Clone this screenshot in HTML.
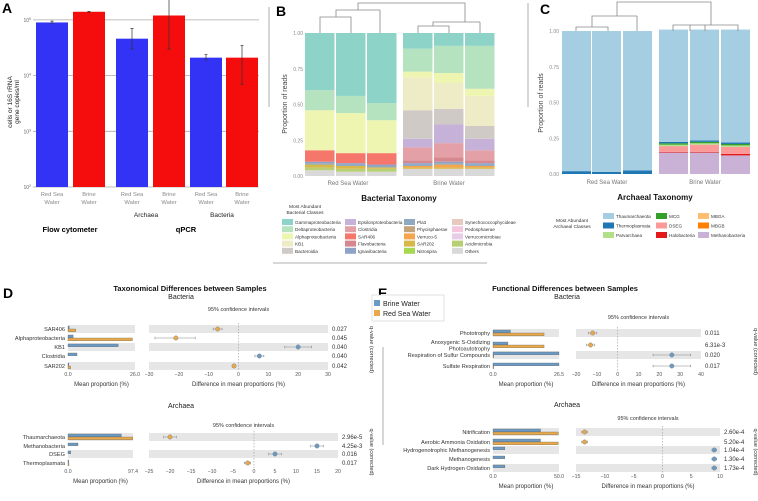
<!DOCTYPE html>
<html><head><meta charset="utf-8">
<style>
html,body{margin:0;padding:0;background:#fff;}
svg{display:block;font-family:"Liberation Sans",Arial,sans-serif;}
.t{fill:#555;}
</style></head>
<body>
<svg id="fig" width="758" height="501" viewBox="0 0 758 501" xmlns="http://www.w3.org/2000/svg">
<!-- static text -->
<text x="2" y="13" font-size="14" font-weight="bold" fill="#000">A</text>
<text x="276" y="16" font-size="14" font-weight="bold" fill="#000">B</text>
<text x="540" y="14" font-size="14" font-weight="bold" fill="#000">C</text>
<text x="3" y="298" font-size="14" font-weight="bold" fill="#000">D</text>
<text x="378" y="298" font-size="14" font-weight="bold" fill="#000">E</text>

<text transform="translate(12,102) rotate(-90)" text-anchor="middle" font-size="6.5" fill="#222">cells or 16S rRNA</text>
<text transform="translate(19,102) rotate(-90)" text-anchor="middle" font-size="6.5" fill="#222">gene copies/ml</text>
<text x="146" y="217" text-anchor="middle" font-size="6.5" fill="#222">Archaea</text>
<text x="222" y="217" text-anchor="middle" font-size="6.5" fill="#222">Bacteria</text>
<text x="70" y="232" text-anchor="middle" font-size="7.5" font-weight="bold" fill="#000">Flow cytometer</text>
<text x="186" y="232" text-anchor="middle" font-size="7.5" font-weight="bold" fill="#000">qPCR</text>
<line x1="269" y1="7" x2="269" y2="107" stroke="#999" stroke-width="0.8"/>
<line x1="528" y1="3" x2="528" y2="107" stroke="#999" stroke-width="0.8"/>
<line x1="273" y1="263" x2="487" y2="263" stroke="#999" stroke-width="0.8"/>
<line x1="383" y1="347" x2="383" y2="445" stroke="#999" stroke-width="0.8"/>

<text transform="translate(287,104) rotate(-90)" text-anchor="middle" font-size="7" fill="#444">Proportion of reads</text>
<text x="348" y="185" text-anchor="middle" font-size="6" fill="#777">Red Sea Water</text>
<text x="449" y="185" text-anchor="middle" font-size="6" fill="#777">Brine Water</text>
<text x="399" y="201" text-anchor="middle" font-size="8" font-weight="bold" fill="#111">Bacterial Taxonomy</text>
<text x="305" y="208" text-anchor="middle" font-size="4.8" fill="#333">Most Abundant</text>
<text x="305" y="214" text-anchor="middle" font-size="4.8" fill="#333">Bacterial Classes</text>

<text transform="translate(543,103) rotate(-90)" text-anchor="middle" font-size="7" fill="#444">Proportion of reads</text>
<text x="607" y="184" text-anchor="middle" font-size="6" fill="#777">Red Sea Water</text>
<text x="705" y="184" text-anchor="middle" font-size="6" fill="#777">Brine Water</text>
<text x="655" y="200" text-anchor="middle" font-size="8" font-weight="bold" fill="#111">Archaeal Taxonomy</text>
<text x="572" y="222" text-anchor="middle" font-size="4.8" fill="#333">Most Abundant</text>
<text x="572" y="228" text-anchor="middle" font-size="4.8" fill="#333">Archaeal Classes</text>

<text x="190" y="291" text-anchor="middle" font-size="7.5" font-weight="bold" fill="#111">Taxonomical Differences between Samples</text>
<text x="565" y="291" text-anchor="middle" font-size="7.5" font-weight="bold" fill="#111">Functional Differences between Samples</text>

<rect x="372" y="295" width="72" height="26" fill="#fff" stroke="#ccc" stroke-width="0.6"/>
<rect x="374" y="300" width="6" height="6" fill="#6b9ac4"/>
<text x="383" y="306" font-size="7" fill="#222">Brine Water</text>
<rect x="374" y="310" width="6" height="6" fill="#e8a84c"/>
<text x="383" y="316" font-size="7" fill="#222">Red Sea Water</text>

<g id="dyn"></g>
</svg>
<script>
// ---------- Panel A data ----------
const aCategories = ['Red Sea Water','Brine Water','Red Sea Water','Brine Water','Red Sea Water','Brine Water'];
const aValues = [90000, 140000, 46000, 120000, 21000, 21000];
const aErrLow = [85000, 138000, 30000, 30000, 19000, 7000];
const aErrHigh = [95000, 142000, 70000, 420000, 24000, 35000];
const aTicks = [2, 3, 4, 5];

// ---------- Panel B data (stack order bottom->top) ----------
const bClasses = ['Others','Acidimicrobia','SAR202','Verruco-5','Pla3','Ignavibacteria','Flavobacteria','SAR406','Clostridia','Epsilonproteobacteria','Bacteroidia','KB1','Alphaproteobacteria','Deltaproteobacteria','Gammaproteobacteria'];
const bOthers   = [0.04,0.03,0.03,0.05,0.05,0.05];
const bAcidi    = [0.02,0.02,0.02,0.00,0.00,0.00];
const bSAR202   = [0.02,0.02,0.01,0.01,0.01,0.01];
const bVerruco  = [0.00,0.00,0.00,0.01,0.02,0.01];
const bPla3     = [0.01,0.01,0.01,0.01,0.01,0.01];
const bIgnavi   = [0.01,0.01,0.01,0.01,0.01,0.01];
const bFlavo    = [0.00,0.00,0.00,0.02,0.03,0.02];
const bSAR406   = [0.08,0.07,0.08,0.00,0.00,0.00];
const bClost    = [0.00,0.00,0.00,0.09,0.10,0.07];
const bEpsilon  = [0.00,0.00,0.00,0.06,0.13,0.08];
const bBactero  = [0.00,0.00,0.00,0.20,0.11,0.09];
const bKB1      = [0.00,0.00,0.00,0.23,0.18,0.21];
const bAlpha    = [0.28,0.28,0.23,0.04,0.07,0.05];
const bDelta    = [0.14,0.12,0.12,0.16,0.19,0.30];
const bGamma    = [0.40,0.44,0.49,0.11,0.09,0.09];
const bTicks = ['0.00','0.25','0.50','0.75','1.00'];

// ---------- Panel C data ----------
const cClasses = ['Methanobacteria','Halobacteria','DSEG','Parvarchaea','MCG','Thermoplasmata','Thaumarchaeota'];
const cMethano = [0.00,0.00,0.00,0.15,0.15,0.13];
const cHalo    = [0.00,0.00,0.00,0.005,0.005,0.01];
const cDSEG    = [0.00,0.00,0.00,0.04,0.05,0.05];
const cParv    = [0.00,0.00,0.00,0.01,0.01,0.01];
const cMCG     = [0.00,0.00,0.00,0.01,0.01,0.01];
const cThermo  = [0.02,0.015,0.025,0.01,0.01,0.01];
const cThaum   = [0.98,0.985,0.975,0.785,0.775,0.79];

// ---------- Panel D data ----------
const dBacLabels = ['SAR406','Alphaproteobacteria','KB1','Clostridia','SAR202'];
const dBacBrine = [0.5, 2.0, 19.5, 3.5, 0.3];
const dBacRed   = [3.0, 25.0, 0.0, 0.0, 1.0];
const dBacDiff  = [-7, -21, 20, 7, -1.5];
const dBacLo    = [-8.5, -28, 15.5, 5.5, -2];
const dBacHi    = [-5.5, -14.5, 24.5, 8.5, -1];
const dBacQ     = ['0.027','0.045','0.040','0.040','0.042'];
const dBacTicks = [-30,-20,-10,0,10,20,30];
const dArcLabels = ['Thaumarchaeota','Methanobacteria','DSEG','Thermoplasmata'];
const dArcBrine = [80, 15, 4, 0.5];
const dArcRed   = [97, 0, 0, 1.5];
const dArcDiff  = [-20, 15, 5, -1.5];
const dArcLo    = [-21.5, 13.5, 3.5, -2.3];
const dArcHi    = [-18.5, 16.5, 6.5, -0.8];
const dArcQ     = ['2.96e-5','4.25e-3','0.016','0.017'];
const dArcTicks = [-25,-20,-15,-10,-5,0,5,10,15,20];

// ---------- Panel E data ----------
const eBacLabels = [['Phototrophy'],['Anoxygenic S-Oxidizing','Photoautotrophy'],['Respiration of Sulfur Compounds'],['Sulfate Respiration']];
const eBacBrine = [7, 6, 26.5, 26.5];
const eBacRed   = [20.5, 20.5, 0.3, 0.3];
const eBacDiff  = [-12, -13, 26, 26];
const eBacLo    = [-14, -15, 17, 17];
const eBacHi    = [-10, -11, 35, 35];
const eBacQ     = ['0.011','6.31e-3','0.020','0.017'];
const eBacTicks = [-20,-10,0,10,20,30,40];
const eArcLabels = ['Nitrification','Aerobic Ammonia Oxidation','Hydrogenotrophic Methanogenesis','Methanogenesis','Dark Hydrogen Oxidation'];
const eArcBrine = [36, 36, 9, 9, 9];
const eArcRed   = [49.5, 49.5, 0, 0, 0];
const eArcDiff  = [-13.5, -13.5, 9, 9, 9];
const eArcLo    = [-14, -14, 8.6, 8.6, 8.6];
const eArcHi    = [-13, -13, 9.4, 9.4, 9.4];
const eArcQ     = ['2.60e-4','5.20e-4','1.04e-4','1.30e-4','1.73e-4'];
const eArcTicks = [-15,-10,-5,0,5,10];

const NS = 'http://www.w3.org/2000/svg';
const root = document.getElementById('dyn');
function mk(tag, attrs, parent){
  const e = document.createElementNS(NS, tag);
  for (const k in attrs) e.setAttribute(k, attrs[k]);
  (parent||root).appendChild(e);
  return e;
}
function txt(x,y,s,size,fill,anchor,extra){
  const e = mk('text',Object.assign({x:x,y:y,'font-size':size,fill:fill,'text-anchor':anchor||'start'},extra||{}));
  e.textContent = s;
  return e;
}

// ===== Panel A =====
const aY = v => 187 - (Math.log10(v) - 2) * 55.7;
const aX0 = [36, 73, 116, 153, 190, 226];
const aColors = ['#3333f5','#f50d0d','#3333f5','#f50d0d','#3333f5','#f50d0d'];
aTicks.forEach(p => {
  const y = aY(Math.pow(10,p));
  const g = mk('line',{x1:33,x2:259,y1:y,y2:y,stroke:'#aaa','stroke-width':0.8});
  
  
  const t = txt(31,y+2,'10',5,'#666','end');
  
  
  const sp = mk('tspan',{dy:-2,'font-size':3.5},t); sp.textContent = String(p);
});
aValues.forEach((v,i) => {
  const r = mk('rect',{x:aX0[i],y:aY(v),width:32,height:187-aY(v),fill:aColors[i]});
  
  
  const cx = aX0[i]+16;
  const e = mk('path',{d:`M${cx},${aY(aErrLow[i])}V${aY(aErrHigh[i])}M${cx-1.5},${aY(aErrLow[i])}h3M${cx-1.5},${aY(aErrHigh[i])}h3`,stroke:'#333','stroke-width':0.7,fill:'none'});
  
  
  const w = aCategories[i].split(' ');
  const l1 = txt(cx,196, w.length>2 ? 'Red Sea' : w[0], 5.8,'#888','middle');
  
  
  const l2 = txt(cx,204, 'Water', 5.8,'#888','middle');
  
  
});

// ===== Stacked bars helper =====
function stacked(series, colors, xs, bw, yTop, yBot, prefix){
  const h = yBot - yTop;
  for (let b=0;b<xs.length;b++){
    let cum = 0;
    series.forEach((s,k) => {
      const v = s[b]; if (v<=0) return;
      const y1 = yBot - (cum+v)*h, y0 = yBot - cum*h;
      const r = mk('rect',{x:xs[b],y:y1,width:bw,height:y0-y1,fill:colors[k]});
      
      
      cum += v;
    });
  }
}
function yTicks(ticks,x,yTop,yBot,prefix){
  ticks.forEach((t,i) => {
    const y = yBot - (yBot-yTop)*i/(ticks.length-1);
    const e = txt(x,y+2,t,5,'#888','end');
    
    
  });
}

// ===== Panel B =====
const bColors = ['#d9d9d9','#b8cf74','#d9b84a','#f4a54e','#8fa9bf','#8fa3c9','#d7878e','#f5766b','#e3a0a6','#c6b2d8','#cfcac6','#eeecc6','#eef5b0','#b5e3bf','#8dd3c7'];
stacked([bOthers,bAcidi,bSAR202,bVerruco,bPla3,bIgnavi,bFlavo,bSAR406,bClost,bEpsilon,bBactero,bKB1,bAlpha,bDelta,bGamma], bColors,
  [305,336,367,403,434,465],29.5,33,176,'b-bar');
yTicks(bTicks,303,33,176,'b');
function dend(d,name){ const p = mk('path',{d:d,stroke:'#888','stroke-width':0.8,fill:'none'});   }
dend('M320,33V17H351V33 M380,33V10 M336,17V10H380 M358,10V3H465V22 M418,33V26H449V33 M480,33V22 M433,26V22H480','b-dendrogram');
const bLegendCols = [282,345,404,452];
const bLegendLabels = [['Gammaproteobacteria','Deltaproteobacteria','Alphaproteobacteria','KB1','Bacteroidia'],
 ['Epsilonproteobacteria','Clostridia','SAR406','Flavobacteria','Ignavibacteria'],
 ['Pla3','Phycisphaerae','Verruco-5','SAR202','Nitrospira'],
 ['Synechococcophycideae','Pedosphaerae','Verrucomicrobiae','Acidimicrobia','Others']];
const bLegendColors = [['#8dd3c7','#b5e3bf','#eef5b0','#eeecc6','#cfcac6'],
 ['#c6b2d8','#e3a0a6','#f5766b','#d7878e','#8fa3c9'],
 ['#8fa9bf','#c4a47c','#f4a54e','#d9b84a','#a6d854'],
 ['#e8c9c0','#f4c7df','#e7cde6','#b8cf74','#d9d9d9']];
bLegendCols.forEach((x,c) => bLegendLabels[c].forEach((l,r) => {
  const y = 219 + r*7.2;
  const s = mk('rect',{x:x,y:y,width:11,height:6,fill:bLegendColors[c][r]});
  
  
  const t = txt(x+13,y+5,l,4.6,'#333');
  
  
}));

// ===== Panel C =====
const cColors = ['#cab2d6','#e31a1c','#fb9a99','#b2df8a','#33a02c','#1f78b4','#a6cee3'];
stacked([cMethano,cHalo,cDSEG,cParv,cMCG,cThermo,cThaum], cColors,[562,592,623,659,690,721],29,31,174,'c-bar');
yTicks(bTicks,559,31,174,'c');
dend('M576,31V27H608V31 M637,31V16 M592,27V16H637 M617,16V2H711V25 M673,31V25H738V31 M690,25V31 M705,25V31','c-dendrogram');
const cLegendCols = [603,656,698];
const cLegendLabels = [['Thaumarchaeota','Thermoplasmata','Parvarchaea'],['MCG','DSEG','Halobacteria'],['MBGA','MBGB','Methanobacteria']];
const cLegendColors = [['#a6cee3','#1f78b4','#b2df8a'],['#33a02c','#fb9a99','#e31a1c'],['#fdbf6f','#ff7f00','#cab2d6']];
cLegendCols.forEach((x,c) => cLegendLabels[c].forEach((l,r) => {
  const y = 213 + r*9.5;
  const s = mk('rect',{x:x,y:y,width:11,height:6,fill:cLegendColors[c][r]});
  
  
  const t = txt(x+13,y+5,l,4.6,'#333');
  
  
}));

// ===== Extended error bar plot (panels D & E) =====
const BLUE='#6b9ac4', ORANGE='#e8a84c';
function ebPlot(o){
  const n = o.labels.length;
  // headers
  const h1 = txt(o.headX,o.headY,o.head,7,'#222','middle');
  
  
  const h2 = txt((o.rx0+o.rx1)/2,o.ciY,'95% confidence intervals',5.5,'#333','middle');
  
  
  const lx = v => o.lx0 + (o.lx1-o.lx0)*v/o.lmax;
  const rx = v => o.rx0 + (o.rx1-o.rx0)*(v-o.rticks[0])/(o.rticks[o.rticks.length-1]-o.rticks[0]);
  o.rows.forEach((y,i) => {
    if (i%2===0){
      const b1 = mk('rect',{x:o.lx0,y:y-4,width:o.lx1-o.lx0,height:8,fill:'#e6e6e6'});
      
      
      const b2 = mk('rect',{x:o.rx0,y:y-4,width:o.rx1-o.rx0,height:8,fill:'#e6e6e6'});
      
      
    }
  });
  const z = mk('line',{x1:rx(0),x2:rx(0),y1:o.rows[0]-6,y2:o.rows[n-1]+5,stroke:'#999','stroke-width':0.6,'stroke-dasharray':'1.5,1.5'});
  
  
  o.rows.forEach((y,i) => {
    const lab = o.labels[i];
    const lines = Array.isArray(lab) ? lab : [lab];
    lines.forEach((s,j) => {
      const t = txt(o.lx0-3, y+2 + (j - (lines.length-1)/2)*6.5 , s, 5.6, '#333','end');
      
      
    });
    const bb = mk('rect',{x:o.lx0,y:y-3,width:Math.max(lx(o.brine[i])-o.lx0,0.8),height:2.8,fill:BLUE,stroke:'#555','stroke-width':0.3});
    
    
    if (o.red[i]>0){
      const rb = mk('rect',{x:o.lx0,y:y,width:lx(o.red[i])-o.lx0,height:2.8,fill:ORANGE,stroke:'#555','stroke-width':0.3});
      
      
    }
    const col = o.diff[i] < 0 ? ORANGE : BLUE;
    const ci = mk('path',{d:`M${rx(o.lo[i])},${y}H${rx(o.hi[i])}M${rx(o.lo[i])},${y-1.3}v2.6M${rx(o.hi[i])},${y-1.3}v2.6`,stroke:'#888','stroke-width':0.6,fill:'none'});
    
    
    const pt = mk('circle',{cx:rx(o.diff[i]),cy:y,r:2.2,fill:col,stroke:'#777','stroke-width':0.4});
    
    
    const q = txt(o.rx1+4,y+2,o.q[i],6,'#333');
    
    
  });
  const ax = o.rows[n-1]+10;
  const t0 = txt(o.lx0,ax,'0.0',5.2,'#555','middle');
  
  
  const t1 = txt(o.lx1,ax,o.lmax.toFixed(1),5.2,'#555','middle');
  
  
  o.rticks.forEach(v => {
    const t = txt(rx(v),ax,v<0?'\u2212'+Math.abs(v):String(v),5.2,'#555','middle');
    
    
  });
  const m = txt((o.lx0+o.lx1)/2,ax+10,'Mean proportion (%)',6,'#333','middle');
  
  
  const d = txt((o.rx0+o.rx1)/2,ax+10,'Difference in mean proportions (%)',6,'#333','middle');
  
  
  const cy = (o.rows[0]+o.rows[n-1])/2 + 2;
  const qv = mk('text',{transform:`translate(${o.qLabelX},${cy}) rotate(90)`,'font-size':5.6,fill:'#333','text-anchor':'middle'});
  qv.textContent = 'q-value (corrected)';
  
  
}

ebPlot({prefix:'d-bacteria',head:'Bacteria',headX:181,headY:299,ciY:311,labels:dBacLabels,brine:dBacBrine,red:dBacRed,diff:dBacDiff,lo:dBacLo,hi:dBacHi,q:dBacQ,
  rows:[329,338,347,356,366],lx0:68,lx1:135,lmax:26,rx0:149,rx1:328,rticks:dBacTicks,qLabelX:370});
ebPlot({prefix:'d-archaea',head:'Archaea',headX:181,headY:408,ciY:427,labels:dArcLabels,brine:dArcBrine,red:dArcRed,diff:dArcDiff,lo:dArcLo,hi:dArcHi,q:dArcQ,
  rows:[437,446,454,463],lx0:68,lx1:133,lmax:97.4,rx0:149,rx1:338,rticks:dArcTicks,qLabelX:370});
ebPlot({prefix:'e-bacteria',head:'Bacteria',headX:567,headY:299,ciY:319,labels:eBacLabels,brine:eBacBrine,red:eBacRed,diff:eBacDiff,lo:eBacLo,hi:eBacHi,q:eBacQ,
  rows:[333,345,355,366],lx0:493,lx1:559,lmax:26.5,rx0:576,rx1:701,rticks:eBacTicks,qLabelX:754});
ebPlot({prefix:'e-archaea',head:'Archaea',headX:567,headY:407,ciY:420,labels:eArcLabels,brine:eArcBrine,red:eArcRed,diff:eArcDiff,lo:eArcLo,hi:eArcHi,q:eArcQ,
  rows:[432,442,450,459,468],lx0:493,lx1:559,lmax:50,rx0:576,rx1:720,rticks:eArcTicks,qLabelX:754});
</script>
</body></html>
